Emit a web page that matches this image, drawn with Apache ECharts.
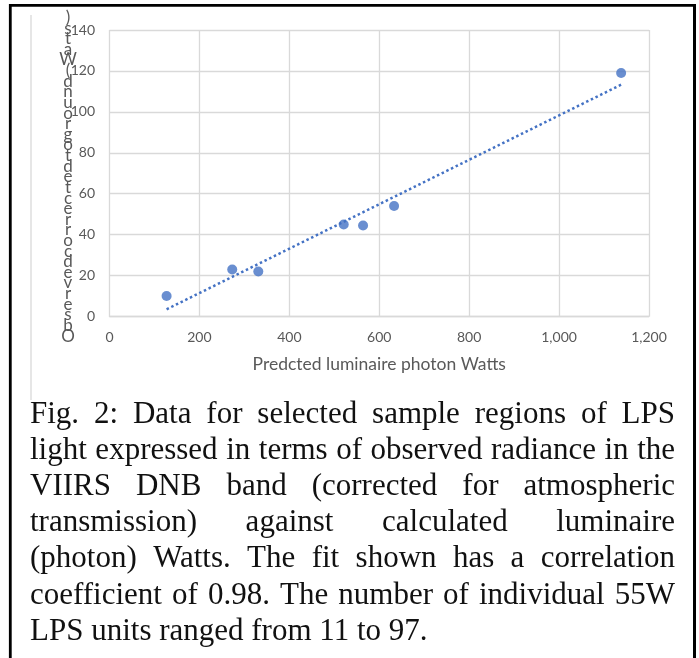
<!DOCTYPE html>
<html>
<head>
<meta charset="utf-8">
<script src="https://cdn.jsdelivr.net/npm/echarts@6/dist/echarts.min.js"></script>
<style>
  html, body { margin: 0; padding: 0; background: #fff; }
  #chart { width: 699px; height: 658px; }
</style>
</head>
<body>
<div id="chart"></div>
<script>
// Sample regions: predicted luminaire photon Watts vs observed radiance
const predictedWatts = [127, 273, 331, 521, 564, 633, 1138];
const observedRadiance = [10, 23, 22, 45, 44.5, 54, 119];

const xTicks = { min: 0, max: 1200, interval: 200 };
const yTicks = { min: 0, max: 140, interval: 20 };

const xAxisTitle = 'Predcted luminaire photon Watts';
const yAxisTitle = 'Observed corrected to ground (Wats)';

const captionLines = [
  'Fig. 2: Data for selected sample regions of LPS',
  'light expressed in terms of observed radiance in the',
  'VIIRS DNB band (corrected for atmospheric',
  'transmission) against calculated luminaire',
  '(photon) Watts. The fit shown has a correlation',
  'coefficient of 0.98. The number of individual 55W',
  'LPS units ranged from 11 to 97.'
];

// Least-squares linear fit for the trendline
function linearFit(xs, ys) {
  const n = xs.length;
  const mx = xs.reduce((a, b) => a + b, 0) / n;
  const my = ys.reduce((a, b) => a + b, 0) / n;
  let sxy = 0, sxx = 0;
  for (let i = 0; i < n; i++) {
    sxy += (xs[i] - mx) * (ys[i] - my);
    sxx += (xs[i] - mx) * (xs[i] - mx);
  }
  const slope = sxy / sxx;
  return { slope, intercept: my - slope * mx };
}
const fit = linearFit(predictedWatts, observedRadiance);
const xLo = Math.min(...predictedWatts);
const xHi = Math.max(...predictedWatts);
const trend = [
  [xLo, fit.intercept + fit.slope * xLo],
  [xHi, fit.intercept + fit.slope * xHi]
];

const axisFont = 'Lato';
const labelColor = '#595959';
const gridColor = '#d9d9d9';
const blue = '#4472C4';

// Justified caption laid out word by word
const capFont = 31;
const capFamily = 'Liberation Serif';
const capLeft = 30, capRight = 675;
const capBaseline0 = 424, capLineStep = 36.2;
const measureCtx = document.createElement('canvas').getContext('2d');
measureCtx.font = capFont + 'px "' + capFamily + '"';
const captionGraphics = [];
captionLines.forEach((line, li) => {
  const words = line.split(' ');
  const widths = words.map(w => measureCtx.measureText(w).width);
  const total = widths.reduce((a, b) => a + b, 0);
  const space = measureCtx.measureText(' ').width;
  const isLast = li === captionLines.length - 1;
  const gap = isLast ? space : (capRight - capLeft - total) / (words.length - 1);
  const yMid = capBaseline0 + li * capLineStep - 0.305 * capFont;
  let x = capLeft;
  words.forEach((w, wi) => {
    captionGraphics.push({
      type: 'text',
      silent: true,
      x: x,
      y: yMid,
      style: {
        text: w,
        font: capFont + 'px "' + capFamily + '"',
        fill: '#111',
        align: 'left',
        verticalAlign: 'middle'
      }
    });
    x += widths[wi] + gap;
  });
});

// Stacked vertical axis title: letters read upward from the bottom,
// one text element per letter
const titleLetters = yAxisTitle.replace(/ /g, '').split('').reverse();
const titleTop = 17.5, titleStep = 10.62;
const titleGraphics = titleLetters.map((ch, i) => ({
  type: 'text',
  silent: true,
  x: 68,
  y: titleTop + i * titleStep,
  style: {
    text: ch,
    fontFamily: 'Lato',
    fontSize: 17,
    fill: labelColor,
    align: 'center',
    verticalAlign: 'middle'
  }
}));

const chart = echarts.init(document.getElementById('chart'), null, { renderer: 'canvas' });
chart.setOption({
  animation: false,
  backgroundColor: '#fff',
  grid: { left: 109.5, right: 50, top: 30, bottom: 341.5, containLabel: false },
  xAxis: {
    type: 'value',
    min: xTicks.min, max: xTicks.max, interval: xTicks.interval,
    name: xAxisTitle,
    nameLocation: 'middle',
    nameGap: 39,
    nameTextStyle: { fontFamily: axisFont, fontSize: 17.5, color: labelColor },
    axisLine: { show: true, lineStyle: { color: gridColor, width: 1.3 } },
    axisTick: { show: false },
    axisLabel: {
      fontFamily: axisFont, fontSize: 14, color: labelColor, margin: 14,
      formatter: v => v.toLocaleString('en-US')
    },
    splitLine: { show: true, lineStyle: { color: gridColor, width: 1.3 } }
  },
  yAxis: {
    type: 'value',
    min: yTicks.min, max: yTicks.max, interval: yTicks.interval,
    axisLine: { show: false },
    axisTick: { show: false },
    axisLabel: { fontFamily: axisFont, fontSize: 14, color: labelColor, margin: 14.5 },
    splitLine: { show: true, lineStyle: { color: gridColor, width: 1.3 } }
  },
  series: [
    {
      type: 'line',
      data: trend,
      showSymbol: false,
      silent: true,
      z: 2,
      lineStyle: { color: blue, width: 2.5, type: [2.5, 2.7], cap: 'butt' }
    },
    {
      type: 'scatter',
      data: predictedWatts.map((x, i) => [x, observedRadiance[i]]),
      symbol: 'circle',
      symbolSize: 10,
      z: 3,
      itemStyle: { color: blue }
    }
  ],
  graphic: [
    // figure frame
    { type: 'line', silent: true, shape: { x1: 9, y1: 5.3, x2: 696, y2: 5.3 }, style: { stroke: '#000', lineWidth: 2.8 } },
    { type: 'line', silent: true, shape: { x1: 10.3, y1: 4, x2: 10.3, y2: 658 }, style: { stroke: '#000', lineWidth: 2.8 } },
    { type: 'line', silent: true, shape: { x1: 694.5, y1: 4, x2: 694.5, y2: 658 }, style: { stroke: '#000', lineWidth: 3 } },
    // chart area edge
    { type: 'line', silent: true, shape: { x1: 31, y1: 15, x2: 31, y2: 400 }, style: { stroke: '#dedede', lineWidth: 1.5 } }
  ].concat(titleGraphics, captionGraphics)
});
</script>
</body>
</html>
